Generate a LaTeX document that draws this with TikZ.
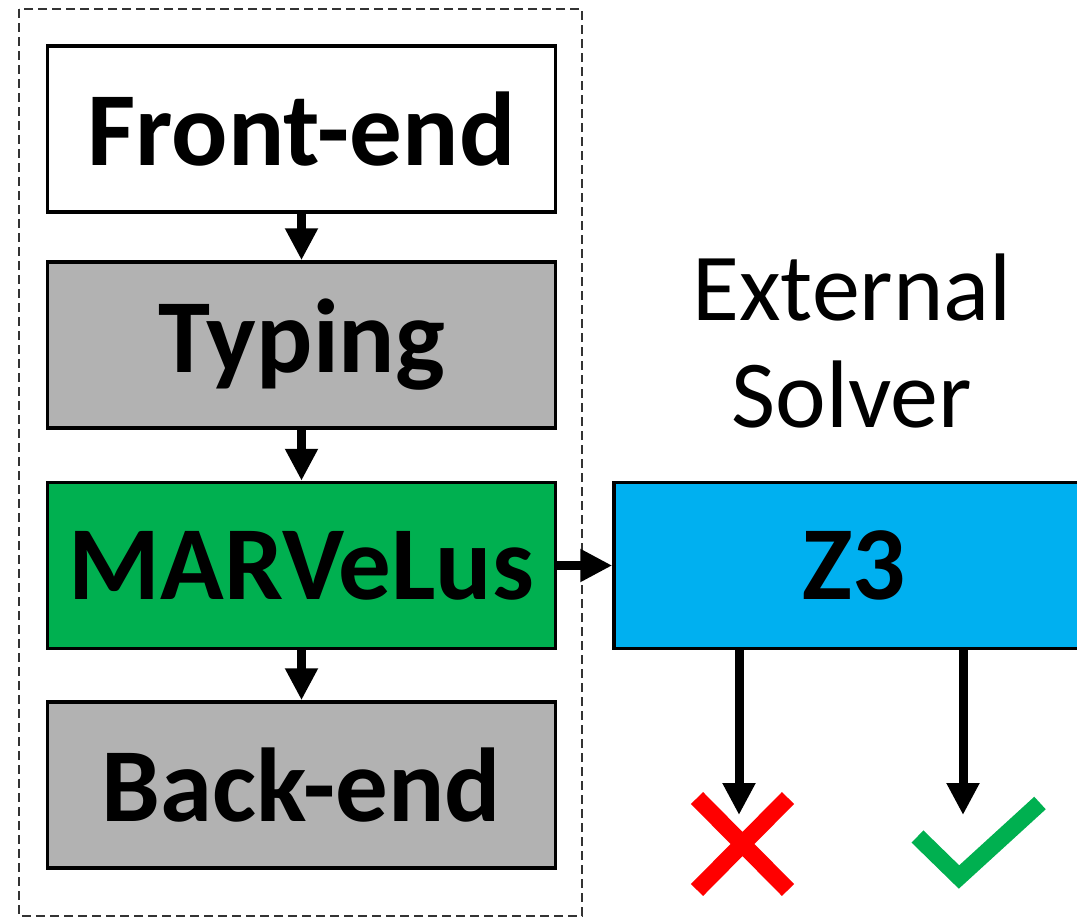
\documentclass[tikz,border=0pt]{standalone}
\usepackage{fontspec}
\setmainfont{Carlito}
\usetikzlibrary{arrows.meta}
\definecolor{boxgray}{RGB}{178,178,178}
\definecolor{boxgreen}{RGB}{0,176,80}
\definecolor{boxblue}{RGB}{0,176,240}
\definecolor{xred}{RGB}{255,0,0}
\tikzset{
  stage/.style={draw=black, line width=3.5pt, minimum width=508pt, minimum height=166pt,
    inner sep=0pt, font=\fontsize{105}{126}\selectfont\bfseries},
  flow/.style={line width=9pt, -{Triangle[width=31pt,length=32pt]}},
  verdict/.style={line width=17pt}
}
\begin{document}
\begin{tikzpicture}[x=1pt,y=-1pt]
\useasboundingbox (0,0) rectangle (1077,918);
\begin{scope}
\clip (0,0) rectangle (1077,918);
% dashed frame
\draw[line width=1.5pt, black!80, dash pattern=on 9pt off 5pt] (19,9) rectangle (582,916);
% stages
\node[stage, fill=white] (fe) at (301.5,129) {Front-end};
\node[stage, fill=boxgray] (ty) at (301.5,345) {Typing};
\node[stage, fill=boxgreen] (mv) at (301.5,565.5) {MARVeLus};
\node[stage, fill=boxgray] (be) at (301.5,785) {Back-end};
\node[stage, fill=boxblue, minimum width=480pt] (z3) at (854,565.5) {Z3};
% label
\node[align=center, inner sep=0pt, anchor=base, font=\fontsize{96}{107}\selectfont] (ext) at (852,427) {External\\Solver};
% arrows
\draw[flow] (fe) -- (ty);
\draw[flow] (ty) -- (mv);
\draw[flow] (mv) -- (be);
\draw[flow] (mv) -- (z3);
\coordinate (fail) at (739,815);
\coordinate (ok) at (963,815);
\draw[flow] (z3.south -| fail) -- (fail);
\draw[flow] (z3.south -| ok) -- (ok);
% cross and check
\draw[verdict, xred] (697,798) -- (788,890) (697,890) -- (788,798);
\draw[verdict, boxgreen] (917.5,836.5) -- (959,877) -- (1040,803);
\end{scope}
\end{tikzpicture}
\end{document}
